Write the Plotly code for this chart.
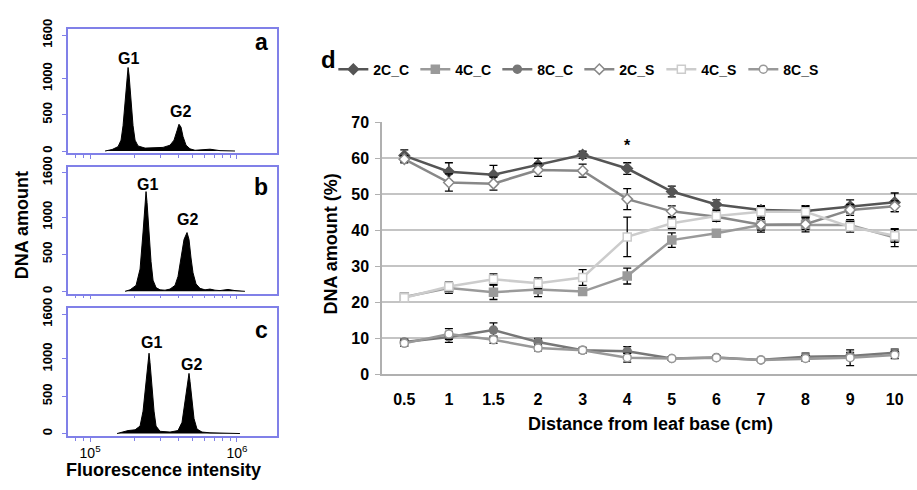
import plotly.graph_objects as go

# ---------------- Panels a-c : flow cytometry histograms ----------------
intensity_a = [126500, 141100, 155000, 162500, 167700, 173000, 178500, 181400, 184200, 190100,
               196100, 202400, 212100, 236700, 276800, 313800, 350100, 372700, 390600, 403000,
               415900, 429200, 449900, 478900, 517900, 605800, 655100, 708500, 766200, 969200]
counts_a = [0, 20, 60, 150, 350, 700, 1000, 1153, 1050, 700,
            350, 150, 70, 40, 40, 50, 80, 150, 280, 369,
            330, 200, 80, 30, 10, 15, 25, 15, 5, 0]

intensity_b = [173000, 187100, 205600, 218900, 229400, 236700, 240400, 244200, 252000, 260000,
               268300, 281200, 299400, 323700, 350100, 378600, 396800, 415900, 436000, 457000,
               471500, 486500, 501900, 526100, 560300, 605800, 655100, 708500, 766200, 868400,
               969200, 1133000]
counts_b = [0, 20, 80, 300, 800, 1250, 1346, 1200, 800, 400,
            150, 50, 20, 15, 30, 80, 200, 450, 700, 793,
            700, 450, 250, 100, 40, 20, 30, 15, 10, 25,
            10, 0]

intensity_c = [152600, 165100, 181400, 202400, 218900, 229400, 240400, 248000, 252000, 255900,
               264100, 272500, 281200, 299400, 350100, 396800, 422600, 442900, 464200, 471500,
               478900, 494200, 509900, 534400, 578100, 655100, 828600, 896100, 1048000]
counts_c = [0, 20, 40, 50, 100, 300, 700, 1000, 1076, 950,
            600, 300, 100, 30, 20, 40, 150, 450, 750, 806,
            700, 400, 200, 60, 20, 10, 10, 5, 0]

hist_yticks = [0, 500, 1000, 1600]
log_major = [1e5, 1e6]
log_major_text = ["10<sup>5</sup>", "10<sup>6</sup>"]
log_minor = [6e4, 7e4, 8e4, 9e4, 2e5, 3e5, 4e5, 5e5, 6e5, 7e5, 8e5, 9e5]

# ---------------- Panel d : DNA amount vs distance ----------------
distance = ["0.5", "1", "1.5", "2", "3", "4", "5", "6", "7", "8", "9", "10"]
c2_C = [60.8, 56.3, 55.5, 58.2, 61.0, 57.2, 50.8, 47.2, 45.7, 45.4, 46.7, 47.8]
c2_C_err = [1.6, 2.5, 2.6, 1.8, 1.0, 1.6, 1.5, 1.3, 1.2, 1.5, 1.8, 2.6]
c4_C = [21.5, 24.0, 22.8, 23.6, 23.0, 27.3, 37.3, 39.2, 41.5, 41.6, 41.5, 38.0]
c4_C_err = [0.8, 1.5, 2.0, 2.0, 1.0, 2.2, 2.0, 1.0, 2.0, 2.0, 1.5, 2.5]
c8_C = [9.0, 10.4, 12.3, 9.0, 6.7, 6.4, 4.4, 4.7, 4.0, 4.9, 5.1, 6.0]
c8_C_err = [0.8, 1.5, 2.0, 1.0, 0.8, 1.3, 0.5, 0.5, 0.5, 1.0, 1.0, 1.0]
c2_S = [59.8, 53.3, 53.0, 56.8, 56.6, 48.7, 45.3, 43.8, 41.6, 41.7, 45.7, 46.7]
c2_S_err = [1.0, 2.4, 1.8, 1.8, 1.8, 2.9, 1.5, 1.2, 1.5, 1.5, 1.5, 1.5]
c4_S = [21.3, 24.4, 26.4, 25.3, 26.9, 38.2, 42.0, 44.0, 45.2, 45.2, 41.0, 38.5]
c4_S_err = [0.8, 1.2, 1.5, 1.5, 2.2, 5.5, 1.5, 1.5, 1.5, 1.5, 1.5, 1.8]
c8_S = [8.6, 11.2, 9.6, 7.3, 6.7, 4.6, 4.4, 4.6, 4.0, 4.4, 4.6, 5.4]
c8_S_err = [0.8, 1.5, 1.0, 0.8, 0.5, 1.2, 0.5, 0.5, 0.5, 0.8, 2.2, 1.0]

FONT = "Liberation Sans"
BLUE = "#8080e8"
GRID = "#c4c4c4"

fig = go.Figure()

hist_sets = [("x", "y", intensity_a, counts_a),
             ("x2", "y2", intensity_b, counts_b),
             ("x3", "y3", intensity_c, counts_c)]
for xa, ya, xs, ys in hist_sets:
    fig.add_trace(go.Scatter(x=xs, y=ys, xaxis=xa, yaxis=ya, mode="lines",
                             fill="tozeroy", fillcolor="black",
                             line=dict(color="black", width=1),
                             showlegend=False, hoverinfo="skip"))

series = [
    ("2C_C", c2_C, c2_C_err, "#555555", "diamond", "#555555"),
    ("4C_C", c4_C, c4_C_err, "#9a9a9a", "square", "#9a9a9a"),
    ("8C_C", c8_C, c8_C_err, "#777777", "circle", "#777777"),
    ("2C_S", c2_S, c2_S_err, "#888888", "diamond", "white"),
    ("4C_S", c4_S, c4_S_err, "#cccccc", "square", "white"),
    ("8C_S", c8_S, c8_S_err, "#999999", "circle", "white"),
]
for name, vals, errs, col, sym, fillc in series:
    fig.add_trace(go.Scatter(
        x=distance, y=vals, name=name, xaxis="x4", yaxis="y4",
        mode="lines+markers",
        line=dict(color=col, width=2.5),
        marker=dict(symbol=sym, size=8, color=fillc, line=dict(color=col, width=1.5)),
        error_y=dict(type="data", array=errs, color="black", thickness=1.3, width=4),
    ))

XDOM = [0.0742, 0.302]
YDOMS = [[0.696, 0.959], [0.398, 0.667], [0.096, 0.367]]
layout_axes = {}
for i, yd in enumerate(YDOMS):
    sfx = "" if i == 0 else str(i + 1)
    anchor_y = "y" + sfx
    anchor_x = "x" + sfx
    layout_axes["xaxis" + sfx] = dict(
        type="log", range=[4.85, 6.272], domain=XDOM, anchor=anchor_y,
        showline=True, mirror=True, linecolor=BLUE, linewidth=1.5,
        ticks="outside", ticklen=4, tickcolor=BLUE,
        tickvals=log_major, ticktext=log_major_text,
        showticklabels=(i == 2),
        tickfont=dict(family=FONT, size=14, color="black"),
        minor=dict(tickvals=log_minor, ticks="outside", ticklen=3, tickcolor=BLUE, showgrid=False),
        showgrid=False, zeroline=False,
    )
    layout_axes["yaxis" + sfx] = dict(
        range=[-30, 1680], domain=yd, anchor=anchor_x,
        showline=True, mirror=True, linecolor=BLUE, linewidth=1.5,
        ticks="outside", ticklen=4, tickcolor=BLUE,
        tickvals=hist_yticks, tickangle=-90, ticklabelstandoff=5,
        tickfont=dict(family=FONT, size=13, color="black", weight="bold"),
        showgrid=False, zeroline=False,
    )

layout_axes["xaxis4"] = dict(
    type="category", range=[-0.5, 11.5], domain=[0.4166, 1.0], anchor="y4",
    showline=True, linecolor="#b0b0b0", linewidth=1.5, ticks="",
    tickfont=dict(family=FONT, size=16, color="black", weight="bold"),
    ticklabelstandoff=10, showgrid=False, zeroline=False,
)
layout_axes["yaxis4"] = dict(
    range=[0, 70], dtick=10, domain=[0.2265, 0.7612], anchor="x4",
    showline=True, linecolor="#b0b0b0", linewidth=1.5,
    ticks="outside", ticklen=5, tickcolor="#b0b0b0",
    showgrid=True, gridcolor=GRID, gridwidth=1.5,
    tickfont=dict(family=FONT, size=16, color="black", weight="bold"),
    ticklabelstandoff=3, zeroline=False,
)

W, H = 917, 490
def px(x, y):
    return x / W, 1 - y / H

annotations = []
def add_text(text, x, y, size, angle=0, bold=True):
    xp, yp = px(x, y)
    annotations.append(dict(text=text, x=xp, y=yp, xref="paper", yref="paper",
                            showarrow=False, textangle=angle,
                            xanchor="center", yanchor="middle",
                            font=dict(family=FONT, size=size, color="black",
                                      weight="bold" if bold else "normal")))

add_text("d", 328, 51, 24)
add_text("a", 261, 33, 23)
add_text("b", 261, 184, 23)
add_text("c", 261, 333, 23)
add_text("G1", 128, 50, 16)
add_text("G2", 180, 106, 16)
add_text("G1", 147, 182, 16)
add_text("G2", 187, 218, 16)
add_text("G1", 151, 346, 16)
add_text("G2", 191, 369, 16)
add_text("DNA amount", 22, 224, 18, angle=-90)
add_text("Fluorescence intensity", 163, 479, 18)
add_text("Distance from leaf base (cm)", 650, 431, 18)
add_text("DNA amount (%)", 331, 244, 18, angle=-90)
# asterisk above the "4" category (index 5 on the category axis)
annotations.append(dict(text="*", x=5, y=63.6, xref="x4", yref="y4", showarrow=False,
                        font=dict(family=FONT, size=16, color="black", weight="bold")))

fig.update_layout(
    width=W, height=H, margin=dict(l=0, r=0, t=0, b=0),
    paper_bgcolor="white", plot_bgcolor="white",
    showlegend=True,
    legend=dict(orientation="h", x=0.3635, y=1 - 62 / H, xanchor="left", yanchor="middle",
                font=dict(family=FONT, size=14, color="black", weight="bold"),
                entrywidth=37, entrywidthmode="pixels", bgcolor="rgba(0,0,0,0)"),
    annotations=annotations,
    **layout_axes,
)

fig.write_html("out.html",
               config={"displayModeBar": False},
               post_script="document.body.style.margin='0';document.body.style.overflow='hidden';")
